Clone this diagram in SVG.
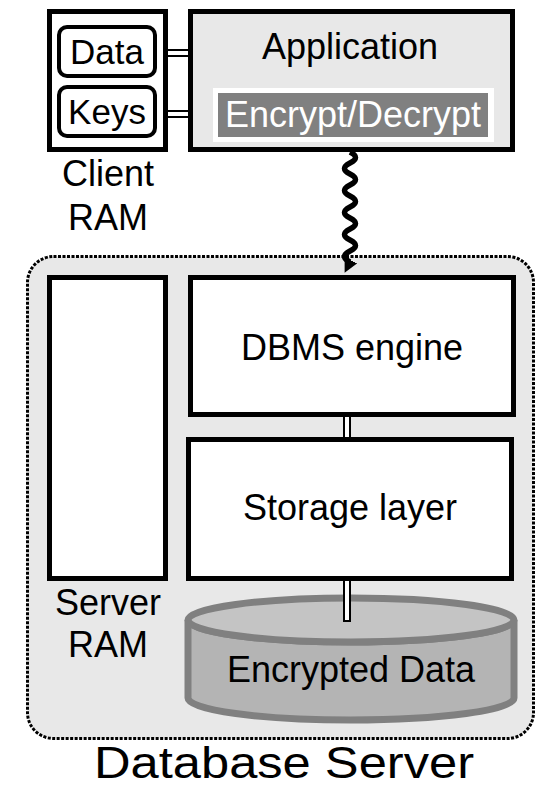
<svg xmlns="http://www.w3.org/2000/svg" width="540" height="789" viewBox="0 0 540 789">
  <style>
    .lbl { font-family: "Liberation Sans", Arial, sans-serif; font-size: 36px; fill: #000; text-anchor: middle; }
    .box { fill: #fff; stroke: #000; stroke-width: 5; }
    .slot { fill: #fff; stroke: #000; stroke-width: 4; }
    .link { fill: #fff; stroke: #000; stroke-width: 2; }
  </style>
  <defs>
    <marker id="arrowhead" viewBox="0 0 14 14" refX="7" refY="2" markerWidth="14" markerHeight="14" markerUnits="userSpaceOnUse" orient="auto-start-reverse">
      <path d="M0,0 L14,0 L7,14 Z" fill="#000"/>
    </marker>
  </defs>
  <rect width="540" height="789" fill="#fff"/>

  <!-- database server enclosure -->
  <g id="database-server">
    <rect x="27.5" y="256.5" width="506" height="482" rx="26" fill="#e8e8e8" stroke="#000" stroke-width="3" stroke-dasharray="3 1.5"/>
    <text class="lbl" x="284" y="778" style="font-size:44px" textLength="380" lengthAdjust="spacingAndGlyphs">Database Server</text>
  </g>

  <!-- client memory -->
  <g id="client-ram">
    <rect class="box" x="49.5" y="11.5" width="116" height="138"/>
    <text class="lbl" x="108" y="186">Client</text>
    <text class="lbl" x="108" y="230">RAM</text>
  </g>
  <g id="data">
    <rect class="slot" x="59" y="27" width="96" height="49" rx="8"/>
    <text class="lbl" x="107" y="64" style="font-size:35px">Data</text>
  </g>
  <g id="keys">
    <rect class="slot" x="59" y="87" width="96" height="49" rx="8"/>
    <text class="lbl" x="107" y="124" style="font-size:35px">Keys</text>
  </g>

  <!-- application -->
  <g id="application">
    <rect class="box" x="190.5" y="11.5" width="322" height="138" style="fill:#e8e8e8"/>
    <text class="lbl" x="350" y="59">Application</text>
  </g>
  <g id="encrypt-decrypt">
    <rect x="213" y="88" width="281" height="54" fill="#fff"/>
    <rect x="218" y="93" width="270" height="44" fill="#808080"/>
    <text class="lbl" x="353" y="127" style="fill:#fff">Encrypt/Decrypt</text>
  </g>

  <!-- server memory -->
  <g id="server-ram">
    <rect class="box" x="49.5" y="277.5" width="116" height="301"/>
    <text class="lbl" x="108" y="615">Server</text>
    <text class="lbl" x="108" y="657">RAM</text>
  </g>

  <g id="dbms-engine">
    <rect class="box" x="190.5" y="277.5" width="323" height="137"/>
    <text class="lbl" x="352" y="360">DBMS engine</text>
  </g>

  <g id="storage-layer">
    <rect class="box" x="188.5" y="439.5" width="323" height="139"/>
    <text class="lbl" x="350" y="520">Storage layer</text>
  </g>

  <g id="encrypted-data">
    <path d="M188,620 A163,22 0 0 0 514,620 L514,698 A163,22 0 0 1 188,698 Z" fill="#b4b4b4" stroke="#808080" stroke-width="7"/>
    <ellipse cx="351" cy="620" rx="163" ry="22" fill="#c4c4c4" stroke="#808080" stroke-width="7"/>
    <text class="lbl" x="351" y="682">Encrypted Data</text>
  </g>

  <!-- connectors -->
  <g id="connectors">
    <rect class="link" x="167" y="50" width="22" height="6"/>
    <rect class="link" x="167" y="111" width="22" height="6"/>
    <rect class="link" x="344" y="416" width="6" height="22"/>
    <rect class="link" x="344" y="580" width="6" height="41"/>
    <path d="M350,152 q11,5.5 0,11 t0,11 t0,11 t0,11 t0,11 t0,11 t0,11 t0,11 t0,11 t0,11" fill="none" stroke="#000" stroke-width="5.5" marker-end="url(#arrowhead)"/>
  </g>
</svg>
